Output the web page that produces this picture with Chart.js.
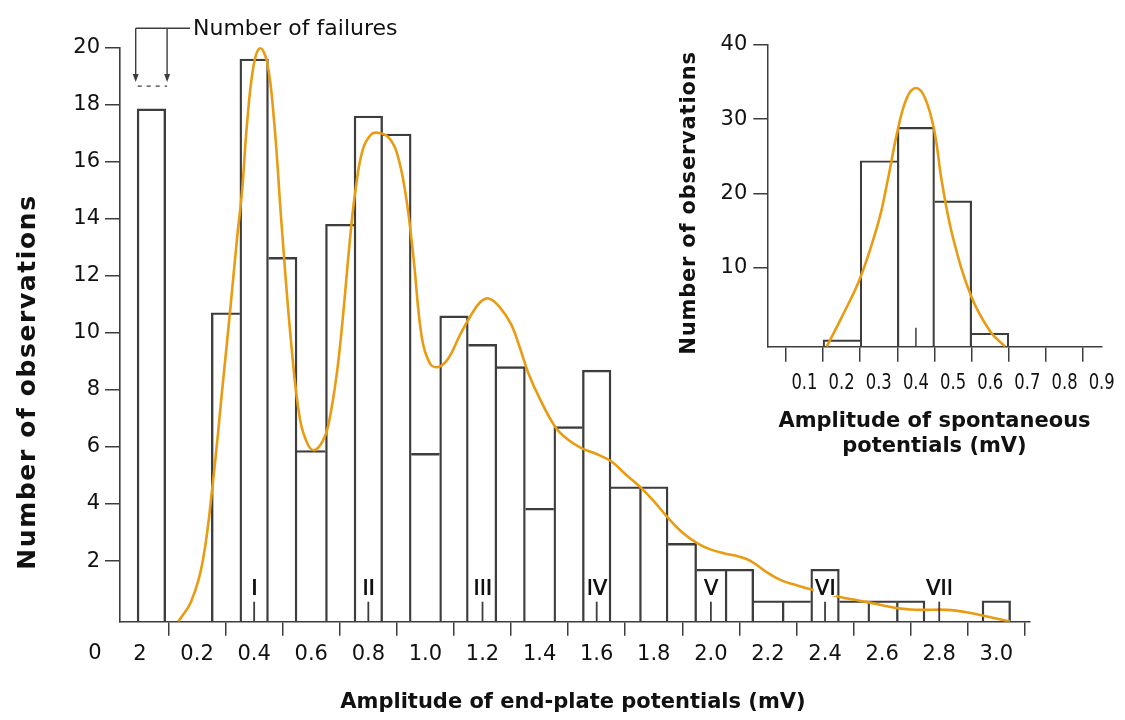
<!DOCTYPE html>
<html>
<head>
<meta charset="utf-8">
<title>Amplitude of end-plate potentials</title>
<script src="https://cdn.jsdelivr.net/npm/chart.js@4.4.1/dist/chart.umd.min.js"></script>
<style>
    html, body { margin: 0; padding: 0; background: #fff; }
    #wrap { position: relative; width: 1125px; height: 720px; }
    #main { position: absolute; left: 0; top: 0; }
    #inset { position: absolute; left: 640px; top: 0; }
</style>
</head>
<body>
<div id="wrap">
    <canvas id="main" width="1125" height="720"></canvas>
    <canvas id="inset" width="485" height="480"></canvas>
</div>
<script>
// --- end-plate potentials, 0.1 mV bins ---
const failureBin = 0.04;
const failureCount = 17.84;
const expectedFailures = 18.64;

const binCenters = [0.3, 0.4, 0.5, 0.6, 0.7, 0.8, 0.9, 1.0, 1.1, 1.2, 1.3, 1.4, 1.5, 1.6, 1.7, 1.8, 1.9, 2.0, 2.1, 2.2, 2.3, 2.4, 2.5, 2.6, 2.7, 3.0];
const binCounts = [10.70, 19.59, 12.64, 5.87, 13.80, 17.59, 16.96, 5.77, 10.59, 9.59, 8.81, 3.85, 6.71, 8.69, 4.60, 4.60, 2.62, 1.71, 1.71, 0.61, 0.61, 1.71, 0.61, 0.61, 0.61, 0.61];

// predicted distribution (curve)
const fitX = [0.134, 0.18, 0.22, 0.257, 0.29, 0.315, 0.34, 0.358, 0.374, 0.397, 0.42, 0.445, 0.47, 0.496, 0.53, 0.561, 0.59, 0.613, 0.64, 0.66, 0.69, 0.712, 0.735, 0.755, 0.78, 0.81, 0.837, 0.87, 0.90, 0.93, 0.958, 0.987, 1.016, 1.045, 1.08, 1.12, 1.156, 1.19, 1.221, 1.26, 1.30, 1.33, 1.36, 1.40, 1.455, 1.50, 1.548, 1.60, 1.653, 1.70, 1.752, 1.80, 1.851, 1.90, 1.953, 2.00, 2.056, 2.10, 2.14, 2.19, 2.243, 2.30, 2.348, 2.40, 2.449, 2.50, 2.548, 2.60, 2.651, 2.70, 2.75, 2.826, 2.90, 2.951, 3.048];
const fitY = [-0.12, 0.6, 2.0, 4.9, 8.2, 10.68, 13.3, 15.0, 17.2, 19.3, 19.97, 19.5, 17.4, 13.8, 9.6, 6.94, 6.05, 5.89, 6.2, 6.76, 8.6, 10.67, 13.2, 15.0, 16.4, 16.95, 17.0, 16.85, 16.3, 14.9, 12.65, 9.85, 8.92, 8.8, 9.1, 9.9, 10.55, 11.05, 11.2, 10.9, 10.3, 9.5, 8.6, 7.7, 6.7, 6.25, 5.95, 5.75, 5.48, 5.05, 4.6, 4.1, 3.5, 3.0, 2.62, 2.4, 2.25, 2.15, 2.0, 1.65, 1.34, 1.15, 1.01, 0.88, 0.75, 0.65, 0.56, 0.45, 0.35, 0.3, 0.29, 0.29, 0.2, 0.09, -0.12];

const unitLabels = ['I', 'II', 'III', 'IV', 'V', 'VI', 'VII'];
const unitPositions = [0.4, 0.8, 1.2, 1.6, 2.0, 2.4, 2.8];

const xTickValues = [0, 0.2, 0.4, 0.6, 0.8, 1.0, 1.2, 1.4, 1.6, 1.8, 2.0, 2.2, 2.4, 2.6, 2.8, 3.0];
const xTickLabels = ['2', '0.2', '0.4', '0.6', '0.8', '1.0', '1.2', '1.4', '1.6', '1.8', '2.0', '2.2', '2.4', '2.6', '2.8', '3.0'];
const yTickValues = [2, 4, 6, 8, 10, 12, 14, 16, 18, 20];

// --- spontaneous potentials (inset) ---
const spontCenters = [0.2, 0.3, 0.4, 0.5, 0.6];
const spontCounts = [0.26, 24.4, 28.9, 19.0, 1.16];
const spontFitX = [0.16, 0.2, 0.25, 0.3, 0.325, 0.35, 0.375, 0.4, 0.425, 0.45, 0.47, 0.5, 0.55, 0.6, 0.64];
const spontFitY = [-0.65, 3.3, 8.6, 16.3, 22.0, 28.3, 32.8, 34.2, 32.8, 28.3, 21.5, 14.0, 6.0, 1.4, -0.65];
const spontMean = 0.4;
const insetXTicks = [0.1, 0.2, 0.3, 0.4, 0.5, 0.6, 0.7, 0.8, 0.9];
const insetXLabels = ['0.1', '0.2', '0.3', '0.4', '0.5', '0.6', '0.7', '0.8', '0.9'];
const insetYTicks = [10, 20, 30, 40];

const INK = '#3d3d3d';
const TEXT = '#111';
const ORANGE = '#e99b12';
const FONT = "'DejaVu Sans', 'Liberation Sans', sans-serif";
const MAIN_YMIN = -0.125;
const INSET_YMIN = -0.65;

// one border per shared edge: the taller neighbour draws it
function edgeWidths(xs, ys, w) {
    return function (ctx) {
        const i = ctx.dataIndex;
        const x = xs[i], y = ys[i];
        const prev = xs.findIndex(v => Math.abs(v - (x - 0.1)) < 1e-6);
        const next = xs.findIndex(v => Math.abs(v - (x + 0.1)) < 1e-6);
        return {
            top: w,
            left: (prev >= 0 && ys[prev] > y) ? 0 : w,
            right: (next >= 0 && ys[next] >= y) ? 0 : w,
            bottom: 0
        };
    };
}

function rotatedText(ctx, text, x, y, font, spacing) {
    ctx.save();
    ctx.translate(x, y);
    ctx.rotate(-Math.PI / 2);
    ctx.font = font;
    ctx.letterSpacing = spacing;
    ctx.fillStyle = TEXT;
    ctx.textAlign = 'center';
    ctx.textBaseline = 'middle';
    ctx.fillText(text, 0, 0);
    ctx.restore();
}

function arrowDown(ctx, x, y0, y1) {
    ctx.beginPath();
    ctx.moveTo(x, y0);
    ctx.lineTo(x, y1 - 6);
    ctx.stroke();
    ctx.beginPath();
    ctx.moveTo(x - 3, y1 - 8);
    ctx.lineTo(x + 3, y1 - 8);
    ctx.lineTo(x, y1);
    ctx.closePath();
    ctx.fill();
}

const mainLabels = {
    id: 'mainLabels',
    afterDraw(chart) {
        const ctx = chart.ctx;
        const xs = chart.scales.x, ys = chart.scales.y;
        const base = ys.getPixelForValue(MAIN_YMIN);
        ctx.save();
        ctx.strokeStyle = INK;
        ctx.fillStyle = INK;
        ctx.lineWidth = 1.8;

        // quantal unit markers
        ctx.font = '21px ' + FONT;
        ctx.textAlign = 'center';
        ctx.textBaseline = 'alphabetic';
        unitPositions.forEach((v, i) => {
            const px = xs.getPixelForValue(v);
            const w = ctx.measureText(unitLabels[i]).width;
            ctx.fillStyle = '#fff';
            ctx.fillRect(px - w / 2 - 1, 578, w + 2, 18);
            ctx.fillStyle = TEXT;
            ctx.fillText(unitLabels[i], px, 595);
            ctx.fillText(unitLabels[i], px + 0.6, 595);
            ctx.beginPath();
            ctx.moveTo(px, base - 20);
            ctx.lineTo(px, base);
            ctx.stroke();
        });

        // failures bracket
        ctx.lineWidth = 1.4;
        const xl = xs.getPixelForValue(failureBin - 0.055);
        const xr = xs.getPixelForValue(failureBin + 0.055);
        const yd = ys.getPixelForValue(expectedFailures);
        const yTop = 28.3;
        ctx.fillStyle = INK;
        arrowDown(ctx, xl, yTop, yd - 4);
        arrowDown(ctx, xr, yTop, yd - 4);
        ctx.beginPath();
        ctx.moveTo(xl, yTop);
        ctx.lineTo(190, yTop);
        ctx.stroke();
        ctx.setLineDash([4, 5]);
        ctx.beginPath();
        ctx.moveTo(xl + 2, yd);
        ctx.lineTo(xr, yd);
        ctx.stroke();
        ctx.setLineDash([]);

        ctx.fillStyle = TEXT;
        ctx.textAlign = 'left';
        ctx.font = '22px ' + FONT;
        ctx.fillText('Number of failures', 193, 35);

        ctx.font = '21px ' + FONT;
        ctx.textAlign = 'center';
        ctx.textBaseline = 'middle';
        ctx.fillText('0', 95, 654);

        ctx.font = 'bold 21px ' + FONT;
        ctx.textBaseline = 'alphabetic';
        ctx.fillText('Amplitude of end-plate potentials (mV)', 573, 708);
        ctx.restore();

        rotatedText(ctx, 'Number of observations', 28, 382, 'bold 25px ' + FONT, '1.6px');
    }
};

const insetLabels = {
    id: 'insetLabels',
    afterDraw(chart) {
        const ctx = chart.ctx;
        const xs = chart.scales.x, ys = chart.scales.y;
        const base = ys.getPixelForValue(INSET_YMIN);
        ctx.save();
        ctx.strokeStyle = INK;
        ctx.lineWidth = 1.5;
        const mx = xs.getPixelForValue(spontMean);
        ctx.beginPath();
        ctx.moveTo(mx, base - 19);
        ctx.lineTo(mx, base);
        ctx.stroke();

        // narrow tick labels
        ctx.fillStyle = TEXT;
        ctx.font = '21px ' + FONT;
        ctx.textAlign = 'center';
        ctx.textBaseline = 'alphabetic';
        insetXTicks.forEach((v, i) => {
            ctx.save();
            ctx.translate(xs.getPixelForValue(v), 389);
            ctx.scale(0.78, 1);
            ctx.fillText(insetXLabels[i], 0, 0);
            ctx.restore();
        });

        ctx.font = 'bold 21px ' + FONT;
        ctx.fillText('Amplitude of spontaneous', 294.5, 427);
        ctx.fillText('potentials (mV)', 294.5, 452);
        ctx.restore();

        rotatedText(ctx, 'Number of observations', 50, 203, 'bold 21px ' + FONT, '0.8px');
    }
};

new Chart(document.getElementById('main'), {
    type: 'bar',
    data: {
        datasets: [{
            type: 'line',
            data: fitX.map((x, i) => ({ x: x, y: fitY[i] })),
            borderColor: ORANGE,
            borderWidth: 2.6,
            pointRadius: 0,
            fill: false,
            tension: 0.4,
            order: 0
        }, {
            type: 'bar',
            data: [{ x: failureBin, y: failureCount }].concat(binCenters.map((x, i) => ({ x: x, y: binCounts[i] }))),
            base: MAIN_YMIN,
            backgroundColor: 'rgba(255,255,255,0)',
            borderColor: INK,
            borderWidth: edgeWidths([failureBin].concat(binCenters), [failureCount].concat(binCounts), 1.7),
            barPercentage: 1,
            categoryPercentage: 1,
            order: 1
        }]
    },
    options: {
        responsive: false,
        animation: false,
        events: [],
        layout: { padding: { top: 47.3, right: 95, bottom: 0, left: 0 } },
        plugins: { legend: { display: false }, tooltip: { enabled: false } },
        scales: {
            x: {
                type: 'linear', min: -0.07, max: 3.118, offset: false,
                afterBuildTicks: s => { s.ticks = xTickValues.map(v => ({ value: v })); },
                afterFit: s => { s.height = 98.3; },
                grid: { drawOnChartArea: false, tickLength: 14, color: INK, lineWidth: 1.5 },
                border: { display: true, color: INK, width: 1.6 },
                ticks: {
                    autoSkip: false, maxRotation: 0, padding: 6, color: TEXT,
                    font: { family: FONT, size: 21 },
                    callback: (v, i) => xTickLabels[i]
                }
            },
            y: {
                min: MAIN_YMIN, max: 20,
                afterBuildTicks: s => { s.ticks = yTickValues.map(v => ({ value: v })); },
                afterFit: s => { s.width = 120; },
                grid: { drawOnChartArea: false, tickLength: 15, color: INK, lineWidth: 1.5 },
                border: { display: true, color: INK, width: 1.6 },
                ticks: { padding: 5, color: TEXT, font: { family: FONT, size: 21 } }
            }
        }
    },
    plugins: [mainLabels]
});

new Chart(document.getElementById('inset'), {
    type: 'bar',
    data: {
        datasets: [{
            type: 'line',
            data: spontFitX.map((x, i) => ({ x: x, y: spontFitY[i] })),
            borderColor: ORANGE,
            borderWidth: 2.6,
            pointRadius: 0,
            fill: false,
            tension: 0.4,
            order: 0
        }, {
            type: 'bar',
            data: spontCenters.map((x, i) => ({ x: x, y: spontCounts[i] })),
            base: INSET_YMIN,
            backgroundColor: 'rgba(255,255,255,0)',
            borderColor: INK,
            borderWidth: edgeWidths(spontCenters, spontCounts, 1.5),
            barPercentage: 1,
            categoryPercentage: 1,
            order: 1
        }]
    },
    options: {
        responsive: false,
        animation: false,
        events: [],
        layout: { padding: { top: 45, right: 23.3, bottom: 0, left: 0 } },
        plugins: { legend: { display: false }, tooltip: { enabled: false } },
        scales: {
            x: {
                type: 'linear', min: 0, max: 0.9, offset: false,
                afterBuildTicks: s => { s.ticks = insetXTicks.map(v => ({ value: v })); },
                afterFit: s => { s.height = 133.3; },
                grid: { drawOnChartArea: false, tickLength: 15, color: INK, lineWidth: 1.5 },
                border: { display: true, color: INK, width: 1.5 },
                ticks: { display: false }
            },
            y: {
                min: INSET_YMIN, max: 40,
                afterBuildTicks: s => { s.ticks = insetYTicks.map(v => ({ value: v })); },
                afterFit: s => { s.width = 127.3; },
                grid: { drawOnChartArea: false, tickLength: 14, color: INK, lineWidth: 1.5 },
                border: { display: true, color: INK, width: 1.5 },
                ticks: { padding: 6, color: TEXT, font: { family: FONT, size: 21 } }
            }
        }
    },
    plugins: [insetLabels]
});
</script>
</body>
</html>
